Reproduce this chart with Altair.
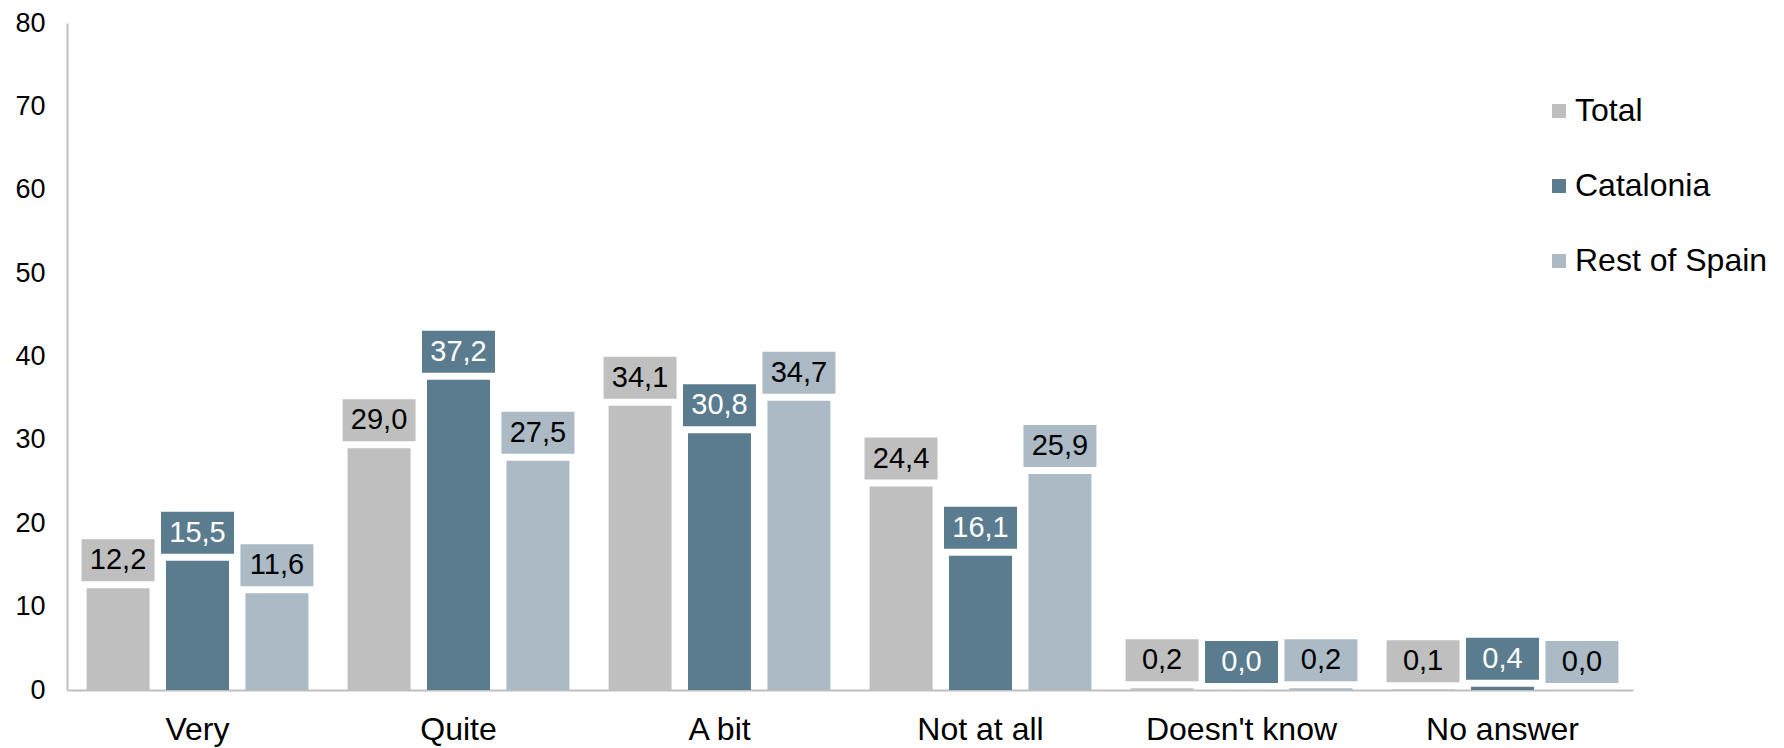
import altair as alt
import pandas as pd

categories = ["Very", "Quite", "A bit", "Not at all", "Doesn't know", "No answer"]
series = ["Total", "Catalonia", "Rest of Spain"]
total = [12.2, 29.0, 34.1, 24.4, 0.2, 0.1]
catalonia = [15.5, 37.2, 30.8, 16.1, 0.0, 0.4]
rest_of_spain = [11.6, 27.5, 34.7, 25.9, 0.2, 0.0]
colors = ["#BFBFBF", "#5B7C8F", "#ABBAC5"]
y_ticks = [0, 10, 20, 30, 40, 50, 60, 70, 80]

rows = []
for s, vals in zip(series, [total, catalonia, rest_of_spain]):
    for c, v in zip(categories, vals):
        rows.append({"category": c, "series": s, "value": v,
                     "label": f"{v:.1f}".replace(".", ",")})
df = pd.DataFrame(rows)

FONT = "Liberation Sans"

x = alt.X("category:N", sort=categories,
          scale=alt.Scale(paddingInner=0.15, paddingOuter=0.075),
          axis=alt.Axis(title=None, labelAngle=0, ticks=False, labelFontSize=32,
                        labelPadding=24, labelLimit=400, domainColor="#BFBFBF",
                        domainWidth=2, labelColor="#000000", labelFont=FONT))
xo = alt.XOffset("series:N", sort=series,
                 scale=alt.Scale(paddingInner=0.207, paddingOuter=0))
y = alt.Y("value:Q", scale=alt.Scale(domain=[0, 80]),
          axis=alt.Axis(title=None, values=y_ticks, grid=False, ticks=False,
                        labelFontSize=27, labelPadding=22, domainColor="#BFBFBF",
                        domainWidth=2, labelColor="#000000", labelFont=FONT))
legend = alt.Legend(title=None, orient="none", legendX=1476, legendY=72,
                    direction="vertical", labelFontSize=32, labelFont=FONT,
                    labelColor="#000000", labelLimit=400, symbolType="square",
                    symbolSize=196, symbolStrokeWidth=0, symbolOpacity=1,
                    rowPadding=43, labelOffset=0)
color = alt.Color("series:N", sort=series,
                  scale=alt.Scale(domain=series, range=colors), legend=legend)

base = alt.Chart(df)

bars = base.mark_bar().encode(x=x, xOffset=xo, y=y, color=color)

boxes = base.mark_bar(width=73, yOffset=-7, y2Offset=-49).encode(
    x=x, xOffset=xo, y=y, y2=alt.Y2("value:Q"), color=color)

text_dark = base.transform_filter(alt.datum.series != "Catalonia").mark_text(
    fontSize=29, dy=-28, baseline="middle", font=FONT, color="#000000"
).encode(x=x, xOffset=xo, y=y, text="label:N")

text_light = base.transform_filter(alt.datum.series == "Catalonia").mark_text(
    fontSize=29, dy=-28, baseline="middle", font=FONT, color="#FFFFFF"
).encode(x=x, xOffset=xo, y=y, text="label:N")

chart = alt.layer(bars, boxes, text_dark, text_light).properties(
    width=1566, height=667,
    autosize=alt.AutoSizeParams(type="none"),
    padding={"left": 59, "top": 15, "right": 143, "bottom": 58},
).configure(font=FONT).configure_view(stroke=None)

chart.save("out.html", embed_options={"renderer": "svg", "actions": False})
